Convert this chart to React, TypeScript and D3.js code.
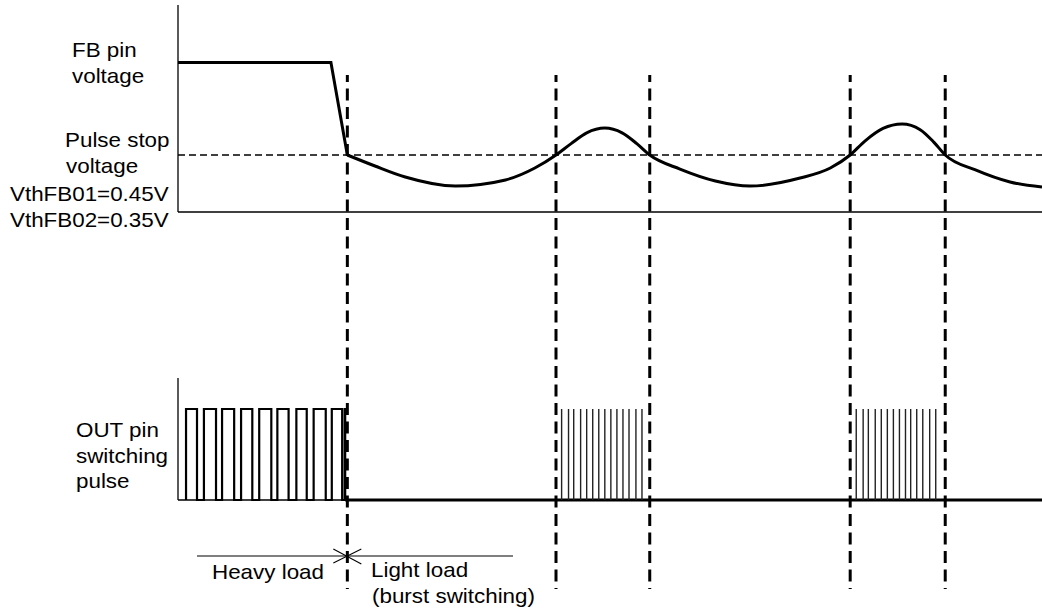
import React from "react";
import * as d3 from "d3";

// ---- data (time in arbitrary units 0..100, voltages in V) ----
const fbTimes = [0, 17.7, 19.6];
const fbVolts = [1.18, 1.18, 0.45];

const curveTimes = [19.6, 22.8, 26.3, 32.1, 37.9, 41.3, 43.75, 45.5, 47.3, 49.4, 51.4, 53.1, 54.6, 58.1, 62.2, 66.2, 72.0, 75.5, 77.8, 79.5, 81.6, 83.8, 85.9, 87.5, 88.8, 92.3, 96.3, 100];
const curveVolts = [0.45, 0.363, 0.276, 0.205, 0.253, 0.347, 0.45, 0.54, 0.625, 0.663, 0.625, 0.54, 0.45, 0.339, 0.245, 0.205, 0.268, 0.347, 0.45, 0.56, 0.66, 0.695, 0.65, 0.55, 0.45, 0.332, 0.237, 0.197];

const pulseStopVolt = 0.45;
const eventTimes = [19.6, 43.75, 54.6, 77.8, 88.8];

const heavyRise = [0.93, 3.0, 5.1, 7.3, 9.4, 11.5, 13.7, 15.7, 17.8, 19.3];
const heavyFall = [2.2, 4.4, 6.5, 8.6, 10.8, 12.8, 14.9, 17.1, 19.0, 19.35];

const burstTimes = [
  44.4, 45.2, 45.8, 46.6, 47.3, 48.0, 48.7, 49.4, 50.1, 50.8, 51.5, 52.2, 53.0, 53.7,
  78.5, 79.3, 79.9, 80.7, 81.4, 82.1, 82.8, 83.5, 84.2, 84.8, 85.5, 86.2, 87.0, 87.7,
];

const topLabels = ["FB pin", "voltage"];
const stopLabels = ["Pulse stop", "voltage", "VthFB01=0.45V", "VthFB02=0.35V"];
const outLabels = ["OUT pin", "switching", "pulse"];
const heavyLabel = "Heavy load";
const lightLabels = ["Light load", "(burst switching)"];

export default function App() {
  const W = 1042, H = 611;
  const x = d3.scaleLinear().domain([0, 100]).range([178, 1042]);
  const yFB = d3.scaleLinear().domain([0, 0.45]).range([212, 155]);
  const yOut = d3.scaleLinear().domain([0, 1]).range([500, 409]);

  const lineLin = d3.line<[number, number]>().x((d) => x(d[0])).y((d) => yFB(d[1]));
  const fbPath = lineLin(fbTimes.map((t, i) => [t, fbVolts[i]]))!;
  const curvePath = d3
    .line<[number, number]>()
    .x((d) => x(d[0]))
    .y((d) => yFB(d[1]))
    .curve(d3.curveMonotoneX)(curveTimes.map((t, i) => [t, curveVolts[i]]))!;

  const heavyPts: [number, number][] = [];
  heavyRise.forEach((r, i) => {
    heavyPts.push([r, 0], [r, 1], [heavyFall[i], 1], [heavyFall[i], 0]);
  });
  const heavyPath = d3
    .line<[number, number]>()
    .x((d) => x(d[0]))
    .y((d) => yOut(d[1]))(heavyPts)!;

  const font = "'Liberation Sans', Arial, sans-serif";
  const txt = (s: string, lx: number, by: number, key: string) => (
    <text
      key={key}
      transform={`translate(${lx},${by}) scale(1.12,1)`}
      fontSize={20}
      fontFamily={font}
      fill="#000"
    >
      {s}
    </text>
  );

  const lastFall = heavyFall[heavyFall.length - 1];

  return (
    <svg width={W} height={H} style={{ position: "absolute", left: 0, top: 0, background: "#fff" }}>
      <rect width={W} height={H} fill="#fff" />
      {/* top axes */}
      <line x1={178} y1={5} x2={178} y2={212} stroke="#000" strokeWidth={1.3} />
      <line x1={178} y1={212} x2={1042} y2={212} stroke="#000" strokeWidth={1.3} />
      {/* pulse stop dashed */}
      <line
        x1={x(0)}
        x2={x(100)}
        y1={yFB(pulseStopVolt)}
        y2={yFB(pulseStopVolt)}
        stroke="#000"
        strokeWidth={1.3}
        strokeDasharray="7,4"
      />
      <path d={fbPath} fill="none" stroke="#000" strokeWidth={3} strokeLinejoin="miter" />
      <path d={curvePath} fill="none" stroke="#000" strokeWidth={3} />

      {/* bottom axes */}
      <line x1={178} y1={378} x2={178} y2={500} stroke="#000" strokeWidth={1.3} />
      <line x1={178} y1={500} x2={1042} y2={500} stroke="#000" strokeWidth={1.3} />
      <path d={heavyPath} fill="none" stroke="#000" strokeWidth={2.2} />
      <line x1={x(lastFall)} x2={x(100)} y1={yOut(0)} y2={yOut(0)} stroke="#000" strokeWidth={3} />
      {burstTimes.map((t, i) => (
        <line key={"b" + i} x1={x(t)} x2={x(t)} y1={yOut(0)} y2={yOut(1)} stroke="#222" strokeWidth={1.4} />
      ))}

      {/* event dashed verticals */}
      {eventTimes.map((t, i) => (
        <line
          key={"e" + i}
          x1={x(t)}
          x2={x(t)}
          y1={75}
          y2={589}
          stroke="#000"
          strokeWidth={3}
          strokeDasharray="12,6.5"
          strokeDashoffset={5}
        />
      ))}

      {/* load boundary */}
      <line x1={197} x2={513} y1={556} y2={556} stroke="#000" strokeWidth={1.1} />
      <line x1={x(eventTimes[0]) - 14} y1={549} x2={x(eventTimes[0]) + 14} y2={564} stroke="#000" strokeWidth={1.1} />
      <line x1={x(eventTimes[0]) - 14} y1={563} x2={x(eventTimes[0]) + 14} y2={549} stroke="#000" strokeWidth={1.1} />

      {/* labels */}
      {txt(topLabels[0], 72, 57, "t0")}
      {txt(topLabels[1], 72, 83, "t1")}
      {txt(stopLabels[0], 65, 147, "s0")}
      {txt(stopLabels[1], 66, 173, "s1")}
      {txt(stopLabels[2], 10, 201, "s2")}
      {txt(stopLabels[3], 10, 227, "s3")}
      {txt(outLabels[0], 76, 437, "o0")}
      {txt(outLabels[1], 76, 463, "o1")}
      {txt(outLabels[2], 76, 488, "o2")}
      {txt(heavyLabel, 212, 579, "h")}
      {txt(lightLabels[0], 371, 577, "l0")}
      {txt(lightLabels[1], 372, 603, "l1")}
    </svg>
  );
}
